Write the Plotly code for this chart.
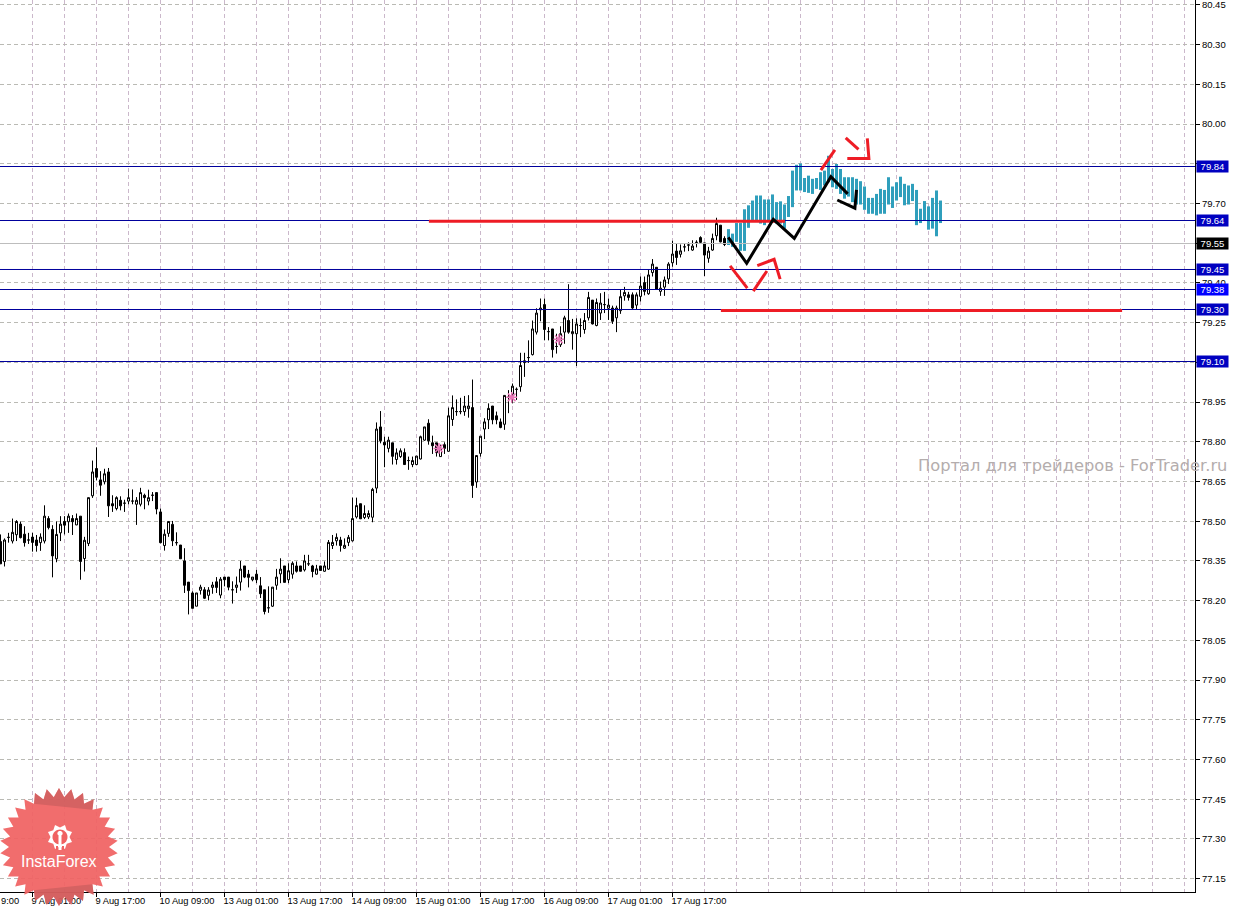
import math
import plotly.graph_objects as go

# ---- candle data (one hourly bar per slot, newest last) ----
opens = [78.423,78.348,78.439,78.425,78.449,78.489,78.451,78.429,78.44,78.429,78.419,78.425,78.51,78.469,78.358,78.456,78.499,78.498,78.51,78.486,78.519,78.359,78.416,78.596,78.699,78.656,78.649,78.686,78.566,78.548,78.579,78.568,78.576,
78.576,78.564,78.564,78.598,78.576,78.598,78.608,78.535,78.408,78.454,78.488,78.419,78.41,78.35,78.27,78.229,78.179,78.239,78.241,78.22,78.25,78.271,78.221,78.289,78.289,78.241,78.25,78.27,78.331,78.3,78.279,78.3,78.256,78.241,78.173,
78.179,78.258,78.301,78.331,78.279,78.3,78.331,78.331,78.316,78.339,78.331,78.3,78.331,78.311,78.319,78.408,78.426,78.429,78.398,78.42,78.426,78.516,
78.566,78.514,78.516,78.515,78.625,78.856,78.798,78.775,78.796,78.733,
78.744,78.759,78.729,78.714,78.714,78.735,78.806,78.87,78.796,78.796,78.744,78.789,78.764,78.884,78.914,78.914,78.914,78.925,78.929,78.648,78.756,78.848,78.883,78.935,78.898,78.875,78.866,
78.968,78.98,78.998,79.008,79.099,79.118,79.129,79.214,79.298,79.318,79.216,79.226,79.16,79.166,79.214,79.258,79.208,79.208,79.239,79.224,79.268,79.335,79.239,79.286,79.318,79.304,79.305,79.268,79.295,79.351,79.355,79.355,79.316,
79.349,79.401,79.359,79.439,79.459,79.368,79.384,79.415,79.476,79.52,79.508,79.536,79.543,79.524,79.553,79.571,79.551,79.493,79.524,79.578,79.618,79.568]
highs = [78.45,78.435,78.456,78.51,78.504,78.499,78.481,78.456,78.456,78.448,78.454,78.56,78.519,78.485,78.499,78.519,78.519,78.529,78.523,78.529,78.519,78.441,78.589,78.729,78.779,78.689,78.698,78.701,78.598,78.594,78.594,78.581,78.623,
78.62,78.591,78.626,78.604,78.619,78.61,78.608,78.548,78.469,78.499,78.501,78.458,78.41,78.398,78.27,78.235,78.229,78.26,78.251,78.251,78.271,78.289,78.289,78.289,78.289,78.273,78.291,78.35,78.331,78.316,78.289,78.316,78.289,78.241,78.254,
78.251,78.32,78.36,78.331,78.341,78.348,78.348,78.331,78.373,78.373,78.335,78.335,78.331,78.348,78.429,78.448,78.454,78.441,78.435,78.448,78.589,78.589,
78.566,78.56,78.541,78.626,78.873,78.916,78.819,78.819,78.796,78.775,
78.775,78.775,78.744,78.744,78.746,78.823,78.856,78.885,78.823,78.796,78.789,78.798,78.929,78.975,78.96,78.966,78.973,78.976,79.035,78.748,78.821,78.889,78.945,78.935,78.914,78.888,78.975,
78.995,79.02,79.005,79.136,79.136,79.183,79.258,79.304,79.341,79.341,79.233,79.226,79.208,79.236,79.276,79.395,79.264,79.266,79.266,79.286,79.366,79.335,79.341,79.361,79.366,79.341,79.314,79.314,79.376,79.385,79.366,79.364,79.364,
79.424,79.424,79.451,79.49,79.459,79.405,79.424,79.478,79.559,79.549,79.545,79.549,79.553,79.561,79.561,79.576,79.551,79.536,79.586,79.646,79.618,79.576]
lows = [78.339,78.329,78.419,78.416,78.425,78.435,78.404,78.414,78.385,78.385,78.388,78.416,78.469,78.288,78.345,78.425,78.45,78.456,78.448,78.485,78.279,78.31,78.406,78.588,78.654,78.596,78.639,78.516,78.535,78.541,78.541,78.535,78.564,
78.564,78.486,78.556,78.545,78.56,78.576,78.526,78.416,78.389,78.441,78.406,78.408,78.358,78.229,78.148,78.171,78.179,78.223,78.206,78.201,78.226,78.229,78.209,78.254,78.239,78.189,78.229,78.238,78.285,78.25,78.273,78.266,78.21,78.148,78.154,
78.176,78.241,78.266,78.269,78.266,78.283,78.306,78.31,78.31,78.331,78.288,78.298,78.314,78.309,78.316,78.395,78.408,78.385,78.395,78.406,78.423,78.51,
78.509,78.508,78.508,78.496,78.606,78.794,78.704,78.76,78.714,78.714,
78.739,78.714,78.694,78.704,78.714,78.733,78.804,78.789,78.754,78.744,78.744,78.754,78.763,78.86,78.898,78.904,78.898,78.891,78.588,78.626,78.744,78.81,78.848,78.866,78.866,78.851,78.845,
78.908,78.945,78.958,78.989,79.045,79.098,79.126,79.205,79.255,79.183,79.183,79.118,79.133,79.158,79.17,79.208,79.148,79.086,79.195,79.208,79.258,79.243,79.236,79.26,79.286,79.26,79.245,79.214,79.283,79.333,79.333,79.298,79.301,
79.33,79.353,79.355,79.424,79.376,79.351,79.351,79.396,79.461,79.468,79.496,79.518,79.52,79.521,79.534,79.549,79.426,79.476,79.521,79.561,79.553,79.539]
closes = [78.339,78.429,78.439,78.458,78.499,78.438,78.419,78.429,78.42,78.408,78.44,78.519,78.476,78.369,78.45,78.489,78.485,78.519,78.498,78.51,78.348,78.428,78.589,78.686,78.666,78.636,78.679,78.558,78.558,78.589,78.558,78.568,78.589,
78.576,78.579,78.608,78.589,78.589,78.598,78.546,78.419,78.451,78.499,78.426,78.419,78.358,78.258,78.238,78.171,78.229,78.251,78.209,78.24,78.259,78.25,78.281,78.279,78.251,78.241,78.259,78.319,78.289,78.288,78.289,78.279,78.226,78.159,78.173,
78.251,78.289,78.319,78.269,78.313,78.341,78.311,78.311,78.35,78.339,78.31,78.32,78.314,78.331,78.42,78.42,78.439,78.408,78.409,78.439,78.51,78.559,
78.509,78.529,78.529,78.62,78.848,78.804,78.788,78.806,78.745,78.758,
78.766,78.714,78.729,78.729,78.746,78.819,78.856,78.804,78.785,78.759,78.776,78.775,78.898,78.929,78.914,78.914,78.935,78.935,78.635,78.748,78.821,78.875,78.926,78.883,78.883,78.854,78.975,
78.968,79.01,78.998,79.088,79.106,79.118,79.226,79.286,79.305,79.224,79.216,79.148,79.16,79.208,79.268,79.214,79.216,79.245,79.239,79.258,79.345,79.245,79.326,79.324,79.318,79.316,79.255,79.305,79.348,79.364,79.345,79.305,79.355,
79.388,79.368,79.43,79.471,79.376,79.38,79.411,79.471,79.509,79.496,79.521,79.536,79.543,79.539,79.553,79.553,79.505,79.52,79.568,79.624,79.555,79.545]

# ---- forecast bars drawn after the last candle ----
forecast_start = 182
forecast_high = [79.603,79.586,79.626,79.626,79.678,79.693,79.711,79.73,79.73,79.715,79.715,79.734,79.705,79.708,79.696,79.728,79.824,79.846,79.851,79.796,79.805,79.793,79.796,79.818,79.824,79.88,79.83,79.849,79.83,79.799,79.799,79.799,79.793,79.784,79.764,79.721,79.721,79.736,79.755,79.751,79.799,79.764,79.78,79.801,79.774,79.768,79.774,79.751,79.68,79.709,79.689,79.721,79.749,79.711]
forecast_low = [79.543,79.536,79.555,79.521,79.521,79.608,79.636,79.636,79.624,79.618,79.636,79.636,79.624,79.624,79.605,79.649,79.686,79.749,79.749,79.743,79.74,79.736,79.755,79.751,79.768,79.78,79.761,79.755,79.736,79.718,79.726,79.705,79.696,79.696,79.676,79.661,79.661,79.655,79.661,79.661,79.696,79.683,79.711,79.724,79.693,79.696,79.709,79.618,79.626,79.634,79.601,79.605,79.576,79.626]

# ---- levels and labels ----
level_prices = [79.8395, 79.6356, 79.4506, 79.375, 79.2995, 79.1031]
level_labels = ["79.84", "79.64", "79.45", "79.38", "79.30", "79.10"]
level_colors = ["#0000C0", "#0000C0", "#0000C0", "#0000FF", "#0000C0", "#0000C0"]
bid_price = 79.5487
bid_label = "79.55"

y_ticks = [77.15,77.30,77.45,77.60,77.75,77.90,78.05,78.20,78.35,78.50,78.65,78.80,78.95,79.10,79.25,79.40,79.55,79.70,79.85,80.00,80.15,80.30,80.45]
y_tick_labels = ["77.15","77.30","77.45","77.60","77.75","77.90","78.05","78.20","78.35","78.50","78.65","78.80","78.95","79.10","79.25","79.40","79.55","79.70","79.85","80.00","80.15","80.30","80.45"]
x_ticks = [8,24,40,56,72,88,104,120,136,152,168]
x_tick_labels = ["9 Aug 01:00","9 Aug 17:00","10 Aug 09:00","13 Aug 01:00","13 Aug 17:00","14 Aug 09:00","15 Aug 01:00","15 Aug 17:00","16 Aug 09:00","17 Aug 01:00","17 Aug 17:00"]

# ---- hand-drawn analysis marks (bar slot, price) ----
red_levels = [([107.1,196.1],[79.633,79.633]), ([180.1,280.4],[79.296,79.296])]
red_marks = [
    ([182.4,186.7],[79.464,79.38]),
    ([188.2,191.6],[79.369,79.445]),
    ([189.2,193.4,194.9],[79.465,79.489,79.414]),
    ([205.1,208.6],[79.826,79.902]),
    ([211.3,214.5],[79.948,79.904]),
    ([211.7,217.1,216.7],[79.87,79.87,79.946]),
]
black_marks = [
    ([181.95,186.55,193.2,198.45,207.6,211.8],[79.572,79.474,79.64,79.568,79.801,79.736]),
    ([209.2,213.6,214.0],[79.713,79.682,79.751]),
]
pink_x = [109.6,127.8,139.6]
pink_y = [78.775,78.968,79.187]

PLOT_W, PLOT_H = 1195, 892
fig = go.Figure()

fig.add_trace(go.Scatter(x=pink_x, y=pink_y, mode="markers", hoverinfo="skip",
    marker=dict(symbol="asterisk-open", size=9, color="#E878B8", line=dict(color="#E878B8", width=1.5))))

bars = list(range(len(opens)))
fig.add_trace(go.Candlestick(x=bars, open=opens, high=highs, low=lows, close=closes, whiskerwidth=0,
    increasing=dict(fillcolor="#FFFFFF", line=dict(color="#000000", width=1)),
    decreasing=dict(fillcolor="#000000", line=dict(color="#000000", width=1)),
    hoverinfo="skip"))

forecast_x = [forecast_start + i for i in range(len(forecast_high))]
fig.add_trace(go.Bar(x=forecast_x, base=forecast_low,
    y=[h - l for h, l in zip(forecast_high, forecast_low)],
    width=0.75, marker=dict(color="#2F9FBC", line=dict(width=0)), hoverinfo="skip"))

x_end = 298.625
x_start = -0.125
fig.add_trace(go.Scatter(x=[x_start, x_end], y=[bid_price, bid_price], mode="lines",
    line=dict(color="#BDBDBD", width=1), hoverinfo="skip"))
for p in level_prices:
    fig.add_trace(go.Scatter(x=[x_start, x_end], y=[p, p], mode="lines",
        line=dict(color="#00009C", width=1), hoverinfo="skip"))
for xs, ys in red_levels:
    fig.add_trace(go.Scatter(x=xs, y=ys, mode="lines", line=dict(color="#EE1C25", width=3), hoverinfo="skip"))
for xs, ys in red_marks:
    fig.add_trace(go.Scatter(x=xs, y=ys, mode="lines", line=dict(color="#EE1C25", width=3), hoverinfo="skip"))
for xs, ys in black_marks:
    fig.add_trace(go.Scatter(x=xs, y=ys, mode="lines", line=dict(color="#000000", width=3), hoverinfo="skip"))

FONT = "Liberation Sans"
annotations = []
for p, t, c in zip(level_prices + [bid_price], level_labels + [bid_label], level_colors + ["#000000"]):
    annotations.append(dict(xref="paper", yref="y", x=1196/PLOT_W, y=p, xanchor="left", yanchor="middle",
        text=t, showarrow=False, width=31, height=11, borderpad=0, bgcolor=c, align="center",
        font=dict(family=FONT, size=9.5, color="#FFFFFF")))
annotations.append(dict(xref="paper", yref="paper", x=0, y=-(901-892)/PLOT_H, xanchor="left", yanchor="middle",
    text="9:00", showarrow=False, borderpad=0, font=dict(family=FONT, size=9.3, color="#000000")))
annotations.append(dict(xref="paper", yref="paper", x=1229/PLOT_W, y=1-465/PLOT_H, xanchor="right", yanchor="middle",
    text="Портал для трейдеров - ForTrader.ru", showarrow=False,
    font=dict(family="DejaVu Sans", size=16.3, color="#B4ADAD")))
annotations.append(dict(xref="paper", yref="paper", x=59/PLOT_W, y=1-861/PLOT_H, xanchor="center", yanchor="middle",
    text="InstaForex", showarrow=False, font=dict(family=FONT, size=16, color="#FFFFFF")))

# logo: star burst with a gear, positioned in the picture's frame
def px(x, y):
    return f"{x/PLOT_W:.5f},{1 - y/PLOT_H:.5f}"

def poly(points):
    return "M " + " L ".join(px(x, y) for x, y in points) + " Z"

def burst(cx, cy, r_out, r_in, teeth, rot=0.0):
    pts = []
    for i in range(teeth * 2):
        r = r_out if i % 2 == 0 else r_in
        a = rot + math.pi * i / teeth
        pts.append((cx + r * math.sin(a), cy - r * math.cos(a)))
    return pts

def shape(path, color):
    return dict(type="path", xref="paper", yref="paper", path=path, fillcolor=color,
                line=dict(width=0), layer="above")

cx, cy = 59, 847
star = burst(cx, cy, 59, 50, 30)
shapes = [shape(poly(star), "rgba(240,98,98,0.93)")]
top_cap = [p for p in star if p[1] < 812 and 28 < p[0] < 97]
bot_cap = [p for p in star if p[1] > 880 and 28 < p[0] < 97]
shapes.append(shape(poly(top_cap), "rgba(190,90,90,0.55)"))
shapes.append(shape(poly(bot_cap), "rgba(190,90,90,0.55)"))
gx, gy = 60, 837
shapes.append(shape(poly(burst(gx, gy, 13, 9.5, 8, math.pi / 8)), "#FFFFFF"))
shapes.append(shape(poly(burst(gx, gy, 7.5, 7.5, 16)), "#F06262"))
shapes.append(shape(poly([(gx-1.5, gy-1), (gx+1.5, gy-1), (gx+1.5, gy+13), (gx-1.5, gy+13)]), "#FFFFFF"))
shapes.append(shape(poly(burst(gx, gy-3.5, 2.6, 2.6, 8)), "#FFFFFF"))
shapes.append(shape(poly([(gx-4, gy+9), (gx-2, gy+9), (gx-2, gy+13), (gx-4, gy+13)]), "#F06262"))
shapes.append(shape(poly([(gx+2, gy+9), (gx+4, gy+9), (gx+4, gy+13), (gx+2, gy+13)]), "#F06262"))

GRID_V = "#CBB8CB"
GRID_H = "#BABAB4"
DASH = "4px,3px"
fig.update_layout(
    width=1236, height=909, autosize=False,
    margin=dict(l=0, r=1236-PLOT_W, t=0, b=909-PLOT_H, pad=0),
    paper_bgcolor="#FFFFFF", plot_bgcolor="#FFFFFF", showlegend=False,
    boxgap=0.5, boxgroupgap=0, dragmode=False,
    annotations=annotations, shapes=shapes,
    font=dict(family=FONT, size=9.3, color="#000000"),
    xaxis=dict(range=[x_start, x_end], rangeslider=dict(visible=False),
        tickmode="array", tickvals=x_ticks, ticktext=x_tick_labels,
        ticks="outside", ticklen=4, tickcolor="#000000", tickwidth=1,
        ticklabelposition="outside right", ticklabelshift=-2, tickangle=0, ticklabeloverflow="allow",
        tickfont=dict(family=FONT, size=9.3, color="#000000"),
        showline=True, linecolor="#000000", linewidth=1,
        showgrid=True, gridcolor=GRID_V, griddash=DASH, gridwidth=1, zeroline=False,
        minor=dict(tick0=0, dtick=8, showgrid=True, gridcolor=GRID_V, griddash=DASH, gridwidth=1, ticks="")),
    yaxis=dict(range=[77.0997, 80.4683], side="right",
        tickmode="array", tickvals=y_ticks, ticktext=y_tick_labels,
        ticks="outside", ticklen=4, tickcolor="#000000", tickwidth=1, ticklabeloverflow="allow",
        tickfont=dict(family=FONT, size=9.5, color="#000000"),
        showline=True, linecolor="#000000", linewidth=1,
        showgrid=True, gridcolor=GRID_H, griddash=DASH, gridwidth=1, zeroline=False),
)

fig.write_html("out.html", config={"displayModeBar": False},
    post_script="document.body.style.margin='0';document.body.style.overflow='hidden';")
